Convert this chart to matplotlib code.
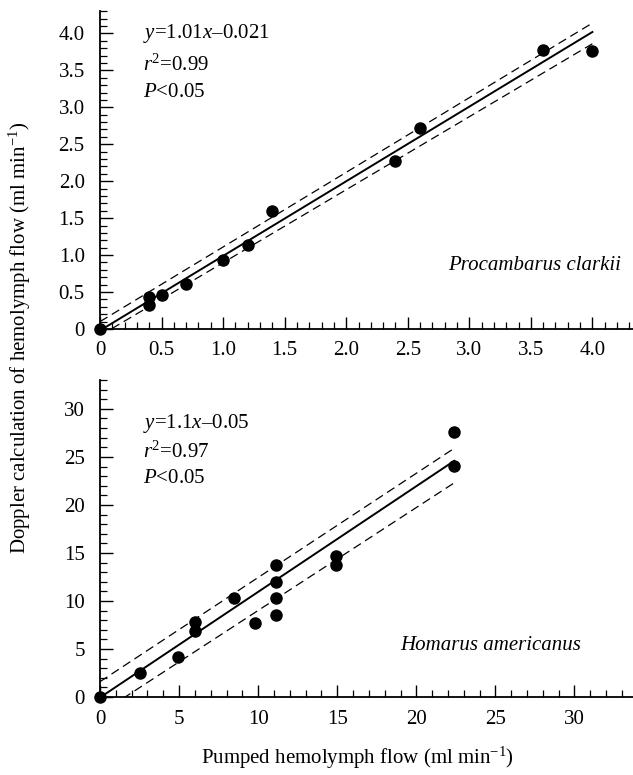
"""Doppler vs pumped hemolymph flow, two crayfish/lobster calibration panels."""

import matplotlib
matplotlib.use("Agg")
import matplotlib.pyplot as plt
import numpy as np
from matplotlib.ticker import MultipleLocator, FuncFormatter

plt.rcParams["font.family"] = ["Liberation Serif", "DejaVu Serif"]
plt.rcParams["mathtext.fontset"] = "custom"
plt.rcParams["mathtext.rm"] = "Liberation Serif"
plt.rcParams["mathtext.it"] = "Liberation Serif:italic"

# ---- Procambarus clarkii (top) ----
pc_x = [0, 0.4, 0.4, 0.5, 0.7, 1.0, 1.2, 1.4, 2.4, 2.6, 3.6, 4.0]
pc_y = [0, 0.43, 0.33, 0.46, 0.61, 0.93, 1.13, 1.59, 2.27, 2.72, 3.77, 3.76]
pc_slope, pc_icept = 1.01, -0.021
pc_fit_x = [0, 4.0]
pc_ci_x = [0, 4.0]
pc_ci_upper = [0.10, 4.14]
pc_ci_lower = [-0.09, 3.86]

# ---- Homarus americanus (bottom) ----
ha_x = [0, 2.5, 4.9, 6.0, 6.0, 8.5, 9.8, 11.1, 11.1, 11.1, 11.1, 14.9, 14.9, 22.4, 22.4]
ha_y = [0, 2.5, 4.2, 7.8, 6.9, 10.3, 7.7, 13.7, 12.0, 10.3, 8.5, 14.7, 13.7, 27.6, 24.1]
ha_slope, ha_icept = 1.1, -0.05
ha_fit_x = [0, 22.4]
ha_ci_x = [0, 22.4]
ha_ci_upper = [1.6, 25.9]
ha_ci_lower = [-1.7, 22.3]

FS = 15


def one_dec(v, _):
    return "0" if abs(v) < 1e-9 else f"{v:.1f}"


def draw(ax, x, y, slope, icept, fit_x, ci_x, ci_up, ci_lo, xlim, ylim,
         xmaj, xmin, ymaj, ymin, onedec):
    fx = np.array(fit_x)
    ax.plot(fx, slope * fx + icept, color="black", lw=1.4, zorder=2)
    ax.plot(ci_x, ci_up, color="black", lw=0.9, dashes=(7, 4), zorder=2)
    ax.plot(ci_x, ci_lo, color="black", lw=0.9, dashes=(7, 4), zorder=2)
    ax.plot(x, y, "o", color="black", ms=8, clip_on=False, zorder=3)
    ax.set_xlim(*xlim)
    ax.set_ylim(*ylim)
    for s in ("top", "right"):
        ax.spines[s].set_visible(False)
    for s in ("left", "bottom"):
        ax.spines[s].set_linewidth(1.3)
    ax.xaxis.set_major_locator(MultipleLocator(xmaj))
    ax.xaxis.set_minor_locator(MultipleLocator(xmin))
    ax.yaxis.set_major_locator(MultipleLocator(ymaj))
    ax.yaxis.set_minor_locator(MultipleLocator(ymin))
    if onedec:
        ax.xaxis.set_major_formatter(FuncFormatter(one_dec))
        ax.yaxis.set_major_formatter(FuncFormatter(one_dec))
    ax.tick_params(which="major", direction="in", length=9, width=1.0,
                   labelsize=FS)
    ax.tick_params(axis="x", which="major", pad=9)
    ax.tick_params(axis="y", which="major", pad=11)
    ax.tick_params(which="minor", direction="in", length=5, width=0.9)


fig = plt.figure(figsize=(6.33, 7.75), dpi=100)
ax1 = fig.add_axes([0.158, 0.5755, 0.842, 0.410])
ax2 = fig.add_axes([0.158, 0.1006, 0.842, 0.409])

draw(ax1, pc_x, pc_y, pc_slope, pc_icept, pc_fit_x, pc_ci_x, pc_ci_upper,
     pc_ci_lower, (0, 4.33), (0, 4.3), 0.5, 0.1, 0.5, 0.1, True)
draw(ax2, ha_x, ha_y, ha_slope, ha_icept, ha_fit_x, ha_ci_x, ha_ci_upper,
     ha_ci_lower, (0, 33.7), (0, 33.0), 5, 1, 5, 1, False)

ax1.text(0.081, 0.931, r"$y$=1.01$x$–0.021", transform=ax1.transAxes, fontsize=FS, va="center")
ax1.text(0.081, 0.830, r"$r^2$=0.99", transform=ax1.transAxes, fontsize=FS, va="center")
ax1.text(0.081, 0.745, r"$P$<0.05", transform=ax1.transAxes, fontsize=FS, va="center")
ax1.text(0.815, 0.20, "Procambarus clarkii", style="italic", transform=ax1.transAxes,
         fontsize=FS, ha="center", va="center")

ax2.text(0.081, 0.864, r"$y$=1.1$x$–0.05", transform=ax2.transAxes, fontsize=FS, va="center")
ax2.text(0.081, 0.773, r"$r^2$=0.97", transform=ax2.transAxes, fontsize=FS, va="center")
ax2.text(0.081, 0.691, r"$P$<0.05", transform=ax2.transAxes, fontsize=FS, va="center")
ax2.text(0.732, 0.164, "Homarus americanus", style="italic", transform=ax2.transAxes,
         fontsize=FS, ha="center", va="center")

fig.text(0.564, 0.022, r"Pumped hemolymph flow (ml min$^{-1}$)", fontsize=FS,
         ha="center", va="center")
fig.text(0.032, 0.564, r"Doppler calculation of hemolymph flow (ml min$^{-1}$)",
         fontsize=FS, rotation=90, ha="center", va="center")

fig.savefig("out.png", dpi=100)
